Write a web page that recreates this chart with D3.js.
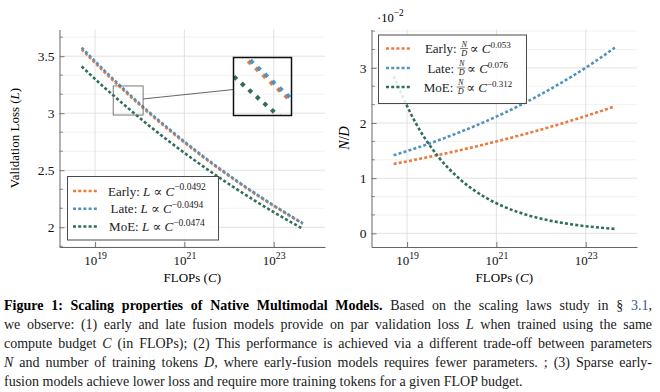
<!DOCTYPE html>
<html>
<head>
<meta charset="utf-8">
<script src="https://cdn.jsdelivr.net/npm/d3@7"></script>
<style>
body { margin: 0; background: #fff; }
svg { display: block; font-family: "Liberation Serif", "DejaVu Serif", serif; }
</style>
</head>
<body>
<svg width="660" height="392"></svg>
<script>
// FLOPs (C) where the fitted curves were read
let flops = [5e18, 1.6e19, 5e19, 1.6e20, 5e20, 1.6e21, 5e21, 1.6e22, 5e22, 1.6e23, 4.5e23];

// left panel: validation loss
let lossEarly = [3.560, 3.362, 3.179, 3.002, 2.838, 2.680, 2.534, 2.393, 2.263, 2.137, 2.031];
let lossLate  = [3.575, 3.376, 3.191, 3.012, 2.848, 2.688, 2.541, 2.400, 2.268, 2.142, 2.035];
let lossMoE   = [3.410, 3.227, 3.058, 2.893, 2.741, 2.594, 2.458, 2.326, 2.204, 2.086, 1.986];

// right panel: N/D (in units of 1e-2)
let ndEarly = [1.258, 1.338, 1.421, 1.511, 1.606, 1.708, 1.814, 1.929, 2.050, 2.180, 2.303];
let ndLate  = [1.415, 1.546, 1.686, 1.842, 2.008, 2.193, 2.392, 2.613, 2.849, 3.112, 3.367];
let ndMoE   = [2.850, 1.984, 1.389, 0.967, 0.677, 0.471, 0.330, 0.230, 0.161, 0.112, 0.081];

let xTicks = [1e19, 1e21, 1e23];
let lossTicks = [2, 2.5, 3, 3.5];
let ndTicks = [0, 1, 2, 3];

let names = ["Early", "Late", "MoE"];
let lossExp = ["\u22120.0492", "\u22120.0494", "\u22120.0474"];
let ndExp = ["0.053", "0.076", "\u22120.312"];
let colors = ["#ec7b3e", "#5292bd", "#2f6f59"];

let s = d3.select("svg");
let dash = "3,2.2";

let enlarge = (lo, hi) => {
    let d = (hi - lo) * 0.1;
    return [lo - d, hi + d];
};

// sup helper: "10" + exponent
let powLabel = (sel, base, exp, fs) => {
    sel.text(base);
    sel.append("tspan").attr("dy", -fs * 0.45).attr("font-size", fs * 0.75).text(exp);
};

let drawPanel = (opt) => {
    let lx = d3.extent(flops).map(Math.log10);
    let xd = enlarge(lx[0], lx[1]).map(v => Math.pow(10, v));
    let x = d3.scaleLog().domain(xd).range([opt.left, opt.right]);
    let all = d3.merge(opt.series);
    let yd = enlarge(d3.min(all), d3.max(all));
    let y = d3.scaleLinear().domain(yd).range([opt.bottom, opt.top]);

    let g = s.append("g");

    // minor horizontal grid
    let m = opt.step / 3;
    let minors = d3.range(Math.ceil(yd[0] / m) * m, yd[1], m)
        .filter(v => Math.abs(v / opt.step - Math.round(v / opt.step)) > 0.01);
    g.selectAll(".minor").data(minors).enter().append("line")
        .attr("x1", opt.left).attr("x2", opt.right)
        .attr("y1", d => y(d)).attr("y2", d => y(d))
        .attr("stroke", "#ececec").attr("stroke-width", 0.7);
    // minor ticks
    g.selectAll(".mtick").data(minors).enter().append("line")
        .attr("x1", opt.left).attr("x2", opt.left + 3.5)
        .attr("y1", d => y(d)).attr("y2", d => y(d))
        .attr("stroke", "#777").attr("stroke-width", 0.8);

    // major grid
    g.selectAll(".hgrid").data(opt.yTicks).enter().append("line")
        .attr("x1", opt.left).attr("x2", opt.right)
        .attr("y1", d => y(d)).attr("y2", d => y(d))
        .attr("stroke", "#dadada").attr("stroke-width", 0.8);
    g.selectAll(".vgrid").data(xTicks).enter().append("line")
        .attr("x1", d => x(d)).attr("x2", d => x(d))
        .attr("y1", opt.top).attr("y2", opt.bottom)
        .attr("stroke", "#dadada").attr("stroke-width", 0.8);

    // axes
    let ax = g.append("g").attr("transform", "translate(0," + opt.bottom + ")")
        .call(d3.axisBottom(x).tickValues(xTicks).tickSizeInner(-5).tickSizeOuter(0).tickPadding(9));
    ax.selectAll("text").attr("font-size", 13).attr("font-family", "Liberation Serif").attr("fill", "#111")
        .each(function (d) { powLabel(d3.select(this), "10", Math.round(Math.log10(d)), 13); });
    let ay = g.append("g").attr("transform", "translate(" + opt.left + ",0)")
        .call(d3.axisLeft(y).tickValues(opt.yTicks).tickFormat(d3.format("~g"))
            .tickSizeInner(-5).tickSizeOuter(0).tickPadding(5));
    ay.selectAll("text").attr("font-size", 13.5).attr("font-family", "Liberation Serif").attr("fill", "#111");
    g.selectAll(".domain").attr("stroke", "#666");
    g.selectAll(".tick line").attr("stroke", "#777");

    // series
    let line = d3.line()
        .x((d, i) => x(flops[i]))
        .y(d => y(d))
        .curve(d3.curveMonotoneX);
    opt.series.forEach((ser, k) => {
        g.append("path")
            .attr("d", line(ser))
            .attr("fill", "none")
            .attr("stroke", colors[k])
            .attr("stroke-width", 2.6)
            .attr("stroke-dasharray", dash);
    });

    // axis labels
    let xl = g.append("text")
        .attr("x", (opt.left + opt.right) / 2).attr("y", opt.bottom + 35)
        .attr("text-anchor", "middle").attr("font-size", 13);
    xl.append("tspan").text("FLOPs (");
    xl.append("tspan").attr("font-style", "italic").text("C");
    xl.append("tspan").text(")");

    return { x: x, y: y, g: g, line: line };
};

// legend box, entries built by a callback
let drawLegend = (box, rows, sampleX, textCx, build) => {
    let lg = s.append("g");
    lg.append("rect")
        .attr("x", box[0]).attr("y", box[1]).attr("width", box[2]).attr("height", box[3])
        .attr("fill", "#fff").attr("fill-opacity", 0.85)
        .attr("stroke", "#4a4a4a").attr("stroke-width", 1);
    names.forEach((n, k) => {
        lg.append("line")
            .attr("x1", sampleX).attr("x2", sampleX + 25)
            .attr("y1", rows[k]).attr("y2", rows[k])
            .attr("stroke", colors[k]).attr("stroke-width", 2.6)
            .attr("stroke-dasharray", dash);
        let eg = lg.append("g");
        build(eg, k);
        let bb = eg.node().getBBox();
        eg.attr("transform", "translate(" + (textCx - bb.x - bb.width / 2) + "," + rows[k] + ")");
    });
};

// ---------- left panel ----------
let L = drawPanel({
    left: 59.5, right: 325, top: 29.5, bottom: 247,
    series: [lossEarly, lossLate, lossMoE], yTicks: lossTicks, step: 0.5
});
L.g.append("text")
    .attr("transform", "translate(19,138) rotate(-90)")
    .attr("text-anchor", "middle").attr("font-size", 13)
    .call(t => {
        t.append("tspan").text("Validation Loss (");
        t.append("tspan").attr("font-style", "italic").text("L");
        t.append("tspan").text(")");
    });

// spy region and magnified inset
let spyC = [2.55e19, 1.19e20];
let spyL = [2.984, 3.239];
let inset = { x: 233.5, y: 57.5, w: 58, h: 58 };
let rx0 = L.x(spyC[0]), rx1 = L.x(spyC[1]), ry0 = L.y(spyL[1]), ry1 = L.y(spyL[0]);
L.g.append("rect")
    .attr("x", rx0).attr("y", ry0).attr("width", rx1 - rx0).attr("height", ry1 - ry0)
    .attr("fill", "none").attr("stroke", "#6a6a6a").attr("stroke-width", 0.9);
// connector between the two boxes, along the line of their centres
let c1 = [(rx0 + rx1) / 2, (ry0 + ry1) / 2];
let c2 = [inset.x + inset.w / 2, inset.y + inset.h / 2];
let slope = (c2[1] - c1[1]) / (c2[0] - c1[0]);
L.g.append("line")
    .attr("x1", rx1).attr("y1", c1[1] + slope * (rx1 - c1[0]))
    .attr("x2", inset.x).attr("y2", c1[1] + slope * (inset.x - c1[0]))
    .attr("stroke", "#555").attr("stroke-width", 0.9);

let xi = d3.scaleLog().domain(spyC).range([inset.x, inset.x + inset.w]);
let yi = d3.scaleLinear().domain(spyL).range([inset.y + inset.h, inset.y]);
s.append("clipPath").attr("id", "spyclip").append("rect")
    .attr("x", inset.x).attr("y", inset.y).attr("width", inset.w).attr("height", inset.h);
let ig = L.g.append("g").attr("clip-path", "url(#spyclip)");
let lineI = d3.line().x((d, i) => xi(flops[i])).y(d => yi(d)).curve(d3.curveMonotoneX);
[lossEarly, lossLate, lossMoE].forEach((ser, k) => {
    let p = ig.append("path").attr("d", lineI(ser)).attr("fill", "none").attr("stroke", "none");
    let len = p.node().getTotalLength();
    for (let l = (k * 3.3) % 10; l < len; l += 10) {
        let pt = p.node().getPointAtLength(l);
        if (pt.x < inset.x - 4 || pt.x > inset.x + inset.w + 4 || pt.y < inset.y - 4 || pt.y > inset.y + inset.h + 4) continue;
        ig.append("path")
            .attr("d", "M0,-2.9L2.9,0L0,2.9L-2.9,0Z")
            .attr("transform", "translate(" + pt.x + "," + pt.y + ")")
            .attr("fill", colors[k]);
    }
});
L.g.append("rect")
    .attr("x", inset.x).attr("y", inset.y).attr("width", inset.w).attr("height", inset.h)
    .attr("fill", "none").attr("stroke", "#111").attr("stroke-width", 1.5);

drawLegend([67.5, 176.5, 151, 63.5], [191, 208.7, 226.5], 73, 157, (eg, k) => {
    let t = eg.append("text").attr("y", 4.5).attr("font-size", 13).attr("fill", "#222");
    t.append("tspan").text(names[k] + ": ");
    t.append("tspan").attr("font-style", "italic").text("L");
    t.append("tspan").text(" \u221D ");
    t.append("tspan").attr("font-style", "italic").text("C");
    t.append("tspan").attr("dy", -5.5).attr("font-size", 9.5).text(lossExp[k]);
});

// ---------- right panel ----------
let R = drawPanel({
    left: 371.5, right: 637, top: 29.5, bottom: 247,
    series: [ndEarly, ndLate, ndMoE], yTicks: ndTicks, step: 1
});
R.g.append("text")
    .attr("transform", "translate(349,138) rotate(-90)")
    .attr("text-anchor", "middle").attr("font-size", 14)
    .call(t => {
        t.append("tspan").attr("font-style", "italic").text("N");
        t.append("tspan").text("/");
        t.append("tspan").attr("font-style", "italic").text("D");
    });
R.g.append("text").attr("x", 377).attr("y", 22).attr("font-size", 12.5)
    .call(t => powLabel(t, "\u00B710", "\u22122", 12.5));

drawLegend([378.5, 35, 148, 68.5], [48.5, 68, 87], 386, 468, (eg, k) => {
    let t = eg.append("text").attr("y", 4.5).attr("font-size", 13).attr("fill", "#222")
        .text(names[k] + ":");
    let w = t.node().getComputedTextLength();
    let fx = w + 7.5;
    eg.append("text").attr("x", fx).attr("y", -1.6).attr("text-anchor", "middle")
        .attr("font-size", 8.2).attr("font-style", "italic").attr("fill", "#222").text("N");
    eg.append("line").attr("x1", fx - 4).attr("x2", fx + 4).attr("y1", 0).attr("y2", 0)
        .attr("stroke", "#222").attr("stroke-width", 0.6);
    eg.append("text").attr("x", fx).attr("y", 7.2).attr("text-anchor", "middle")
        .attr("font-size", 8.2).attr("font-style", "italic").attr("fill", "#222").text("D");
    let t2 = eg.append("text").attr("x", fx + 5.5).attr("y", 4.5).attr("font-size", 13).attr("fill", "#222");
    t2.append("tspan").text(" \u221D ");
    t2.append("tspan").attr("font-style", "italic").text("C");
    t2.append("tspan").attr("dy", -4.8).attr("font-size", 9).text(ndExp[k]);
});

// ---------- caption ----------
let capLines = [
    [["b", "Figure 1: Scaling properties of Native Multimodal Models."], ["", " Based on the scaling laws study in \u00A7 "], ["a", "3.1"], ["", ","]],
    [["", "we observe: (1) early and late fusion models provide on par validation loss "], ["i", "L"], ["", " when trained using the same"]],
    [["", "compute budget "], ["i", "C"], ["", " (in FLOPs); (2) This performance is achieved via a different trade-off between parameters"]],
    [["i", "N"], ["", " and number of training tokens "], ["i", "D"], ["", ", where early-fusion models requires fewer parameters. ; (3) Sparse early-"]],
    [["", "fusion models achieve lower loss and require more training tokens for a given FLOP budget."]]
];
let capY = [310, 329, 348, 367, 386];
capLines.forEach((parts, li) => {
    let t = s.append("text").attr("x", 4).attr("y", capY[li]).attr("font-size", 14).attr("fill", "#1a1a1a");
    parts.forEach(p => {
        let sp = t.append("tspan").text(p[1]);
        if (p[0] === "b") sp.attr("font-weight", "bold").attr("fill", "#000");
        if (p[0] === "i") sp.attr("font-style", "italic");
        if (p[0] === "a") sp.attr("fill", "#3355a8");
    });
    if (li < capLines.length - 1) {
        let w = t.node().getComputedTextLength();
        let full = parts.map(p => p[1]).join("");
        let n = (full.match(/ /g) || []).length;
        t.attr("word-spacing", (648 - w) / n);
    }
});
</script>
</body>
</html>
